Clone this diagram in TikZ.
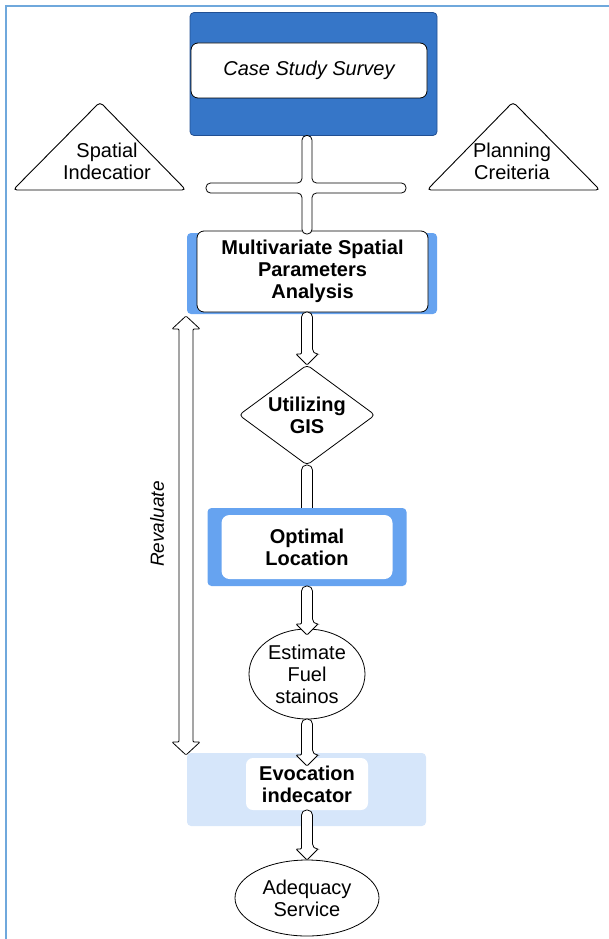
\documentclass[tikz,border=0pt]{standalone}
\usepackage{fontspec}
\setmainfont{Liberation Sans}
\usetikzlibrary{shapes.geometric, calc, backgrounds}

\definecolor{framecol}{HTML}{6FA8DC}
\definecolor{topblue}{HTML}{3676C8}
\definecolor{topedge}{HTML}{214F92}
\definecolor{midblue}{HTML}{66A3F0}
\definecolor{paleblue}{HTML}{D6E6FA}

\begin{document}
\begin{tikzpicture}[
    x=1pt, y=-1pt,
    every node/.style={inner sep=0pt, outer sep=0pt},
    txt/.style={align=center, font=\fontsize{20}{22}\selectfont},
    btxt/.style={align=center, font=\bfseries\fontsize{20}{22}\selectfont},
    plate/.style={rectangle, rounded corners=4pt},
    card/.style={rectangle, draw=black, fill=white, line width=0.8pt, rounded corners=7pt},
    tri/.style={draw=black, fill=white, line width=0.9pt, rounded corners=4pt},
    fatarrow/.style={draw=black, fill=white, line width=0.8pt,
      to path={([xshift=-5.5pt,yshift=11pt]\tikztotarget)
        [rounded corners=5pt] -- ([xshift=-5.5pt]\tikztostart) -- ([xshift=5.5pt]\tikztostart)
        -- ([xshift=5.5pt,yshift=11pt]\tikztotarget)
        [rounded corners=1pt] -- ([xshift=11pt,yshift=11pt]\tikztotarget) -- (\tikztotarget)
        -- ([xshift=-11pt,yshift=11pt]\tikztotarget) -- cycle}},
    fatbar/.style={draw=black, fill=white, line width=0.8pt, rounded corners=5pt,
      to path={([xshift=-5.5pt]\tikztostart) -- ([xshift=-5.5pt]\tikztotarget)
        -- ([xshift=5.5pt]\tikztotarget) -- ([xshift=5.5pt]\tikztostart) -- cycle}},
    fatdouble/.style={draw=black, fill=white, line width=0.8pt, rounded corners=1pt,
      to path={(\tikztostart) -- ([xshift=14pt,yshift=-13pt]\tikztostart)
        -- ([xshift=7pt,yshift=-13pt]\tikztostart) -- ([xshift=7pt,yshift=13pt]\tikztotarget)
        -- ([xshift=14pt,yshift=13pt]\tikztotarget) -- (\tikztotarget)
        -- ([xshift=-14pt,yshift=13pt]\tikztotarget) -- ([xshift=-7pt,yshift=13pt]\tikztotarget)
        -- ([xshift=-7pt,yshift=-13pt]\tikztostart) -- ([xshift=-14pt,yshift=-13pt]\tikztostart) -- cycle}},
  ]
  \useasboundingbox (0,0) rectangle (609,939);
  \draw[framecol, line width=2.5pt] (6,939) -- (6,6) -- (609,6);

  % survey at the top
  \node[plate, fill=topblue, draw=topedge, line width=0.8pt, minimum width=247pt, minimum height=123pt] (cssbg) at (313.5,74) {};
  \node[card, minimum width=236pt, minimum height=55pt, align=center,
        font=\itshape\fontsize{20}{22}\selectfont] (css) at (309,70.5) {Case Study Survey};

  % side triangles
  \draw[tri] (13,190) -- (100,102) -- (186,190) -- cycle;
  \node[txt] (spatial) at (107,161.5) {Spatial\\Indecatior};
  \draw[tri] (427,190) -- (513,102) -- (600,190) -- cycle;
  \node[txt] (planning) at (512,161.5) {Planning\\Creiteria};

  % main chain
  \node[plate, fill=midblue, minimum width=250pt, minimum height=81pt] (msabg) at (312,273.5) {};
  \node[card, btxt, minimum width=231pt, minimum height=81pt] (msa) at (312.5,271.5) {Multivariate Spatial\\Parameters\\Analysis};

  \node[diamond, draw=black, fill=white, line width=0.8pt, rounded corners=4pt,
        minimum width=136pt, minimum height=100pt,
        label={[btxt]center:{Utilizing\\GIS}}] (gis) at (307,415) {};

  \node[plate, fill=midblue, minimum width=199pt, minimum height=78pt] (optbg) at (307,547) {};
  \node[rectangle, rounded corners=8pt, fill=white, minimum width=171pt, minimum height=64pt, btxt] (opt) at (307,547) {Optimal\\Location};

  \node[ellipse, draw=black, fill=white, line width=0.8pt, minimum width=116pt, minimum height=90pt,
        label={[txt]center:{Estimate\\Fuel\\stainos}}] (fuel) at (307,674) {};

  \node[plate, fill=paleblue, minimum width=239pt, minimum height=73pt] (evocbg) at (306.5,789.5) {};
  \node[rectangle, rounded corners=7pt, fill=white, minimum width=122pt, minimum height=52pt, btxt] (evoc) at (307,784) {Evocation\\indecator};

  \node[ellipse, draw=black, fill=white, line width=0.8pt, minimum width=144pt, minimum height=76pt,
        label={[txt]center:{Adequacy\\Service}}] (ade) at (307,898) {};

  % connectors
  \coordinate (cross) at (307,188);
  \draw[fatbar, fill=white, line width=0.8pt, rounded corners=4.5pt]
    ($(cssbg.south -| cross)+(-5,0)$) -- ++(10,0) |- ($(cross)+(99,-5)$) -- ++(0,10)
    -| ($(msa.north -| cross)+(5,3)$) -- ++(-10,0) |- ($(cross)+(-101,5)$) -- ++(0,-10)
    -- ($(cross)+(-5,-5)$) -- cycle;

  \coordinate (msaout) at (msa.south -| gis.north);
  \coordinate (optin) at ([yshift=-10pt]optbg.north);
  \coordinate (fueltop) at ([yshift=-6pt]fuel.north);
  \coordinate (evocin) at ([yshift=-8pt]evoc.north);
  \draw[fatarrow] (msaout) to (gis.north);
  \begin{pgfonlayer}{background}
    \draw[fatbar] (gis.south) to (optin);
  \end{pgfonlayer}
  \draw[fatarrow] (optbg.south) to (fueltop);
  \draw[fatarrow] (fuel.south) to (evocin);
  \draw[fatarrow] (evoc.south) to (ade.north);

  % revaluate loop
  \coordinate (revtop) at (186,316);
  \coordinate (revbot) at (186,755);
  \draw[fatdouble] (revtop) to (revbot);
  \node[rotate=90, font=\itshape\fontsize{19}{22}\selectfont] (reval) at (157,524) {Revaluate};
\end{tikzpicture}
\end{document}
